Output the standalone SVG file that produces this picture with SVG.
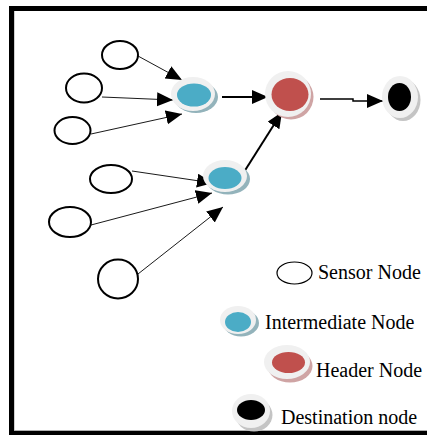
<svg xmlns="http://www.w3.org/2000/svg" width="427" height="435" viewBox="0 0 427 435">
<style>
.sensor{fill:#fff;stroke:#000;stroke-width:2}
.disk{fill:#f0f0f0}
.shT{fill:#93b3bb}
.shR{fill:#cfa4a4}
.shK{fill:#c4c4c4}
.teal{fill:#4bacc6}
.red{fill:#c0504d}
.blk{fill:#000}
.thin{stroke:#000;stroke-width:0.9;fill:none}
.thick{stroke:#000;stroke-width:2;fill:none}
.lbl{font-family:"Liberation Serif","Times New Roman",serif;font-size:20px;fill:#000}
</style>
<defs>
<marker id="ah" markerUnits="userSpaceOnUse" markerWidth="17" markerHeight="15" refX="16" refY="7" orient="auto">
<path d="M0,0 L16,7 L0,14 Z" fill="#000"/>
</marker>
</defs>
<rect x="0" y="0" width="427" height="435" fill="#fff"/>
<g id="frame">
<rect x="9" y="6" width="418" height="5" fill="#000"/>
<rect x="9" y="6" width="5" height="429" fill="#000"/>
<rect x="9" y="431" width="418" height="4" fill="#000"/>
<rect x="14" y="11" width="1" height="420" fill="#d0d0d0"/>
<rect x="14" y="430" width="413" height="1" fill="#b0b0b0"/>
</g>
<g id="connectors">
<line class="thin" x1="138" y1="56" x2="182" y2="80" marker-end="url(#ah)"/>
<line class="thin" x1="102" y1="97" x2="173" y2="100" marker-end="url(#ah)"/>
<line class="thin" x1="91" y1="134" x2="182" y2="114" marker-end="url(#ah)"/>
<line class="thin" x1="132" y1="171" x2="213" y2="183" marker-end="url(#ah)"/>
<line class="thin" x1="91" y1="225" x2="212" y2="193" marker-end="url(#ah)"/>
<line class="thin" x1="138" y1="274" x2="223" y2="207" marker-end="url(#ah)"/>
<line class="thick" x1="222" y1="97" x2="268" y2="97" marker-end="url(#ah)"/>
<line class="thick" x1="244" y1="172" x2="282" y2="112" marker-end="url(#ah)"/>
<polyline class="thin" style="stroke-width:1.5" points="320,99 353,99 353,101 383,101" marker-end="url(#ah)"/>
</g>
<g id="s1"><ellipse class="sensor" cx="120" cy="55" rx="18" ry="14"/></g>
<g id="s2"><ellipse class="sensor" cx="84" cy="88" rx="18" ry="14.5"/></g>
<g id="s3"><ellipse class="sensor" cx="72.5" cy="130.5" rx="18" ry="13.5"/></g>
<g id="s4"><ellipse class="sensor" cx="111" cy="179" rx="21" ry="14"/></g>
<g id="s5"><ellipse class="sensor" cx="70" cy="222" rx="21" ry="15"/></g>
<g id="s6"><ellipse class="sensor" cx="118" cy="279" rx="20" ry="19.5"/></g>
<g id="i1">
<ellipse class="shT" cx="196" cy="97" rx="22" ry="16"/>
<ellipse class="disk" cx="193" cy="94" rx="22" ry="17"/>
<ellipse class="teal" cx="194" cy="95" rx="17" ry="11.5"/>
</g>
<g id="i2">
<ellipse class="shT" cx="228" cy="179" rx="22" ry="15.5"/>
<ellipse class="disk" cx="225" cy="176" rx="22" ry="16"/>
<ellipse class="teal" cx="225" cy="178" rx="16.5" ry="11"/>
</g>
<g id="header">
<ellipse class="shR" cx="291" cy="97" rx="22.5" ry="22.5"/>
<ellipse class="disk" cx="288" cy="94" rx="23" ry="23"/>
<ellipse class="red" cx="290" cy="94.5" rx="18.5" ry="16.5"/>
</g>
<g id="dest">
<ellipse class="shK" cx="403" cy="100" rx="17.5" ry="21"/>
<ellipse class="disk" cx="400" cy="97" rx="18" ry="21"/>
<ellipse class="blk" cx="399.5" cy="97" rx="11.5" ry="14"/>
</g>
<g id="legend-sensor">
<ellipse cx="294.5" cy="273" rx="17.5" ry="11" fill="#fff" stroke="#000" stroke-width="1.2"/>
<text class="lbl" x="318" y="279">Sensor Node</text>
</g>
<g id="legend-intermediate">
<ellipse class="shT" cx="241" cy="323" rx="18" ry="13.5"/>
<ellipse class="disk" cx="238" cy="320" rx="18" ry="14"/>
<ellipse class="teal" cx="238" cy="322" rx="13" ry="10"/>
<text class="lbl" x="265" y="329">Intermediate Node</text>
</g>
<g id="legend-header">
<ellipse class="shR" cx="290" cy="366" rx="22.5" ry="16.5"/>
<ellipse class="disk" cx="287" cy="362" rx="23" ry="17"/>
<ellipse class="red" cx="288.5" cy="362.5" rx="16.5" ry="10.5"/>
<text class="lbl" x="316" y="376.5">Header Node</text>
</g>
<g id="legend-destination">
<ellipse class="shK" cx="254" cy="415" rx="18.5" ry="16.5"/>
<ellipse class="disk" cx="251" cy="411" rx="19" ry="17"/>
<ellipse class="blk" cx="251" cy="410" rx="14" ry="10"/>
<text class="lbl" x="281" y="424">Destination node</text>
</g>
</svg>
